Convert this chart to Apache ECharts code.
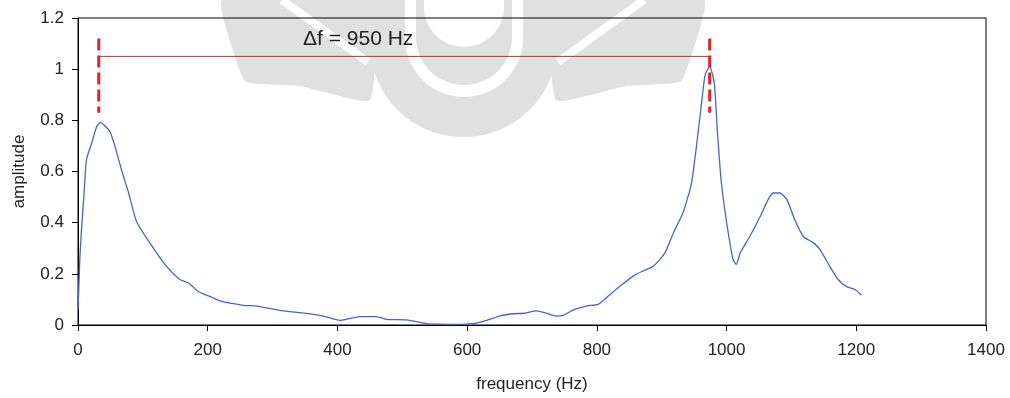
<!DOCTYPE html>
<html>
<head>
<meta charset="utf-8">
<script src="https://cdn.jsdelivr.net/npm/echarts@6/dist/echarts.min.js"></script>
<style>
  html, body { margin: 0; padding: 0; background: #fff; }
  #main { width: 1010px; height: 398px; }
</style>
</head>
<body>
<div id="main"></div>
<script>
// spectrum
var freq = [0, 2, 3, 5.7, 9, 13, 21, 29, 35, 42, 49, 57, 67, 78, 90, 111, 134, 157, 170, 186,
  204, 219, 255, 276, 311, 342, 378, 404, 414, 435, 460, 476, 507, 538, 558, 578, 609, 630,
  651, 671, 687, 707, 720, 738, 748, 764, 784, 802, 815, 836, 856, 870, 887, 905, 918, 933,
  946, 956, 962, 967, 974, 981, 986, 992, 1001, 1010, 1015, 1021, 1036, 1052, 1064, 1072,
  1082, 1093, 1105, 1118, 1134, 1144, 1159, 1172, 1185, 1198, 1208];
var amp = [0.06, 0.2, 0.27, 0.386, 0.5, 0.646, 0.71, 0.777, 0.792, 0.777, 0.757, 0.698, 0.607,
  0.517, 0.406, 0.32, 0.237, 0.178, 0.165, 0.13, 0.111, 0.094, 0.077, 0.074, 0.057, 0.048,
  0.035, 0.018, 0.022, 0.033, 0.033, 0.022, 0.02, 0.005, 0.003, 0.002, 0.005, 0.018, 0.036,
  0.044, 0.046, 0.055, 0.048, 0.035, 0.038, 0.059, 0.074, 0.081, 0.107, 0.152, 0.191, 0.21,
  0.23, 0.282, 0.36, 0.44, 0.556, 0.75, 0.88, 0.978, 1.01, 0.946, 0.75, 0.556, 0.386, 0.256,
  0.237, 0.282, 0.347, 0.425, 0.49, 0.516, 0.516, 0.49, 0.412, 0.347, 0.321, 0.295, 0.23,
  0.178, 0.15, 0.139, 0.116];

// the two peaks and the bracket between them
var peakFreq = [32, 974];
var bracketAmp = 1.05;
var markTop = 1.12;
var markBottom = 0.83;
var deltaLabel = 'Δf = 950 Hz';

var font = 'Liberation Sans, Arial, sans-serif';
var wm = '#e0e0e0';

var myChart = echarts.init(document.getElementById('main'));

var spectrum = freq.map(function (f, i) { return [f, amp[i]]; });

// background watermark (rough shape only)
var watermark = [
  { type: 'polygon', shape: { points: [[222, 0], [370, 0], [370, 100], [300, 86], [246, 82], [236, 60]], smooth: 0.15 }, style: { fill: wm } },
  { type: 'polygon', shape: { points: [[704, 0], [556, 0], [556, 100], [626, 86], [680, 82], [690, 60]], smooth: 0.15 }, style: { fill: wm } },
  { type: 'line', shape: { x1: 282, y1: 0, x2: 368, y2: 62 }, style: { stroke: '#fff', lineWidth: 8 } },
  { type: 'line', shape: { x1: 644, y1: 0, x2: 558, y2: 62 }, style: { stroke: '#fff', lineWidth: 8 } },
  { type: 'rect', shape: { x: 370, y: -100, width: 187, height: 237, r: [0, 0, 93, 93] }, style: { fill: wm } },
  { type: 'rect', shape: { x: 405, y: -100, width: 118, height: 197, r: [0, 0, 59, 59] }, style: { fill: '#fff' } },
  { type: 'rect', shape: { x: 416, y: -100, width: 96, height: 185, r: [0, 0, 48, 48] }, style: { fill: wm } },
  { type: 'rect', shape: { x: 424, y: -100, width: 80, height: 147, r: [0, 0, 40, 40] }, style: { fill: '#fff' } }
];
watermark.forEach(function (g) { g.z = -10; g.silent = true; });

var option = {
  animation: false,
  grid: {
    left: 78,
    right: 24,
    top: 18,
    bottom: 72,
    show: true,
    borderColor: '#000',
    borderWidth: 1,
    backgroundColor: 'transparent'
  },
  graphic: watermark.concat([
    {
      type: 'text',
      left: 303,
      top: 29,
      z: 20,
      style: { text: deltaLabel, font: '21px ' + font, fill: '#222' }
    }
  ]),
  xAxis: {
    type: 'value',
    min: 0,
    max: 1400,
    interval: 200,
    name: 'frequency (Hz)',
    nameLocation: 'middle',
    nameGap: 51,
    nameTextStyle: { fontFamily: font, fontSize: 17, color: '#222' },
    axisLine: { lineStyle: { color: '#000', width: 1 } },
    axisTick: { show: true, length: 6, lineStyle: { color: '#000' } },
    axisLabel: {
      fontFamily: font, fontSize: 17, color: '#222', margin: 17,
      formatter: function (v) { return String(v); }
    },
    splitLine: { show: false }
  },
  yAxis: {
    type: 'value',
    min: 0,
    max: 1.2,
    interval: 0.2,
    name: 'amplitude',
    nameLocation: 'middle',
    nameGap: 50,
    nameTextStyle: { fontFamily: font, fontSize: 17, color: '#222' },
    axisLine: { show: true, lineStyle: { color: '#000', width: 1 } },
    axisTick: { show: true, length: 6, lineStyle: { color: '#000' } },
    axisLabel: { fontFamily: font, fontSize: 17, color: '#222', margin: 14 },
    splitLine: { show: false }
  },
  series: [
    {
      name: 'spectrum',
      type: 'line',
      data: spectrum,
      showSymbol: false,
      smooth: 0.2,
      lineStyle: { color: '#4466cc', width: 1.3 },
      z: 3
    },
    {
      name: 'bracket',
      type: 'line',
      data: [[peakFreq[0], bracketAmp], [peakFreq[1], bracketAmp]],
      showSymbol: false,
      lineStyle: { color: '#c0282e', width: 1 },
      z: 4
    },
    {
      name: 'left peak',
      type: 'line',
      data: [[peakFreq[0], markTop], [peakFreq[0], markBottom]],
      showSymbol: false,
      lineStyle: { color: '#e0202a', width: 3, type: [12, 5] },
      z: 5
    },
    {
      name: 'right peak',
      type: 'line',
      data: [[peakFreq[1], markTop], [peakFreq[1], markBottom]],
      showSymbol: false,
      lineStyle: { color: '#e0202a', width: 3, type: [12, 5] },
      z: 5
    }
  ]
};

myChart.setOption(option);
</script>
</body>
</html>
